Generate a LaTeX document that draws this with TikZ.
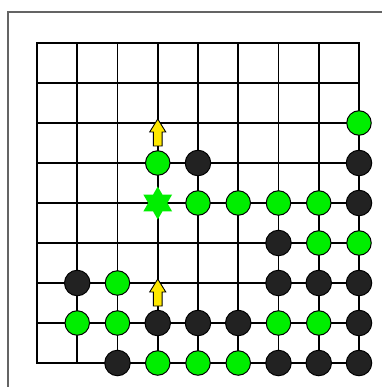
\documentclass[tikz,border=0pt]{standalone}
\usetikzlibrary{shapes.geometric}
\definecolor{stonegreen}{RGB}{0,238,0}
\definecolor{stoneblack}{RGB}{34,34,34}
\definecolor{arrowyellow}{RGB}{255,232,0}
\definecolor{framegray}{RGB}{100,100,100}
\tikzset{
  gridline/.style={line width=1.9pt},
  gstone/.style={circle,draw=black,line width=1pt,fill=stonegreen,minimum size=24.5pt,inner sep=0pt},
  bstone/.style={circle,draw=black,line width=1pt,fill=stoneblack,minimum size=25.5pt,inner sep=0pt},
  gstar/.style={star,star points=6,star point ratio=1.73,fill=stonegreen,minimum size=33pt,inner sep=0pt},
  yarrow/.style={draw=black,line width=.9pt,fill=arrowyellow,line join=miter}
}
\begin{document}
\begin{tikzpicture}[x=40.25pt,y=-40pt]
\useasboundingbox (-0.919,-1.075) rectangle (8.571,8.6);
% frame
\draw[framegray,line width=1.4pt] (-0.72,8.8)--(-0.72,-0.775)--(8.8,-0.775);
% board
\draw[gridline] (0,0) rectangle (8,8);
\foreach \i in {1,...,7}{
  \draw[gridline] (\i,0)--(\i,8);
  \draw[gridline] (0,\i)--(8,\i);
}
% green stones
\foreach \c/\r in {8/2,3/3,4/4,5/4,6/4,7/4,7/5,8/5,2/6,1/7,2/7,6/7,7/7,3/8,4/8,5/8}
  \node[gstone] (g-\c-\r) at (\c,\r) {};
% black stones
\foreach \c/\r in {4/3,8/3,8/4,6/5,1/6,6/6,7/6,8/6,3/7,4/7,5/7,8/7,2/8,6/8,7/8,8/8}
  \node[bstone] (b-\c-\r) at (\c,\r) {};
% star
\node[gstar] (star) at (3,4) {};
% arrows
\foreach \c/\r in {3/3,3/7}
  \draw[yarrow,shift={(\c,\r)}] (-.11,-.425)--(-.11,-.775)--(-.2,-.775)--(0,-1.1)
    --(.2,-.775)--(.11,-.775)--(.11,-.425)--cycle;
\end{tikzpicture}
\end{document}
